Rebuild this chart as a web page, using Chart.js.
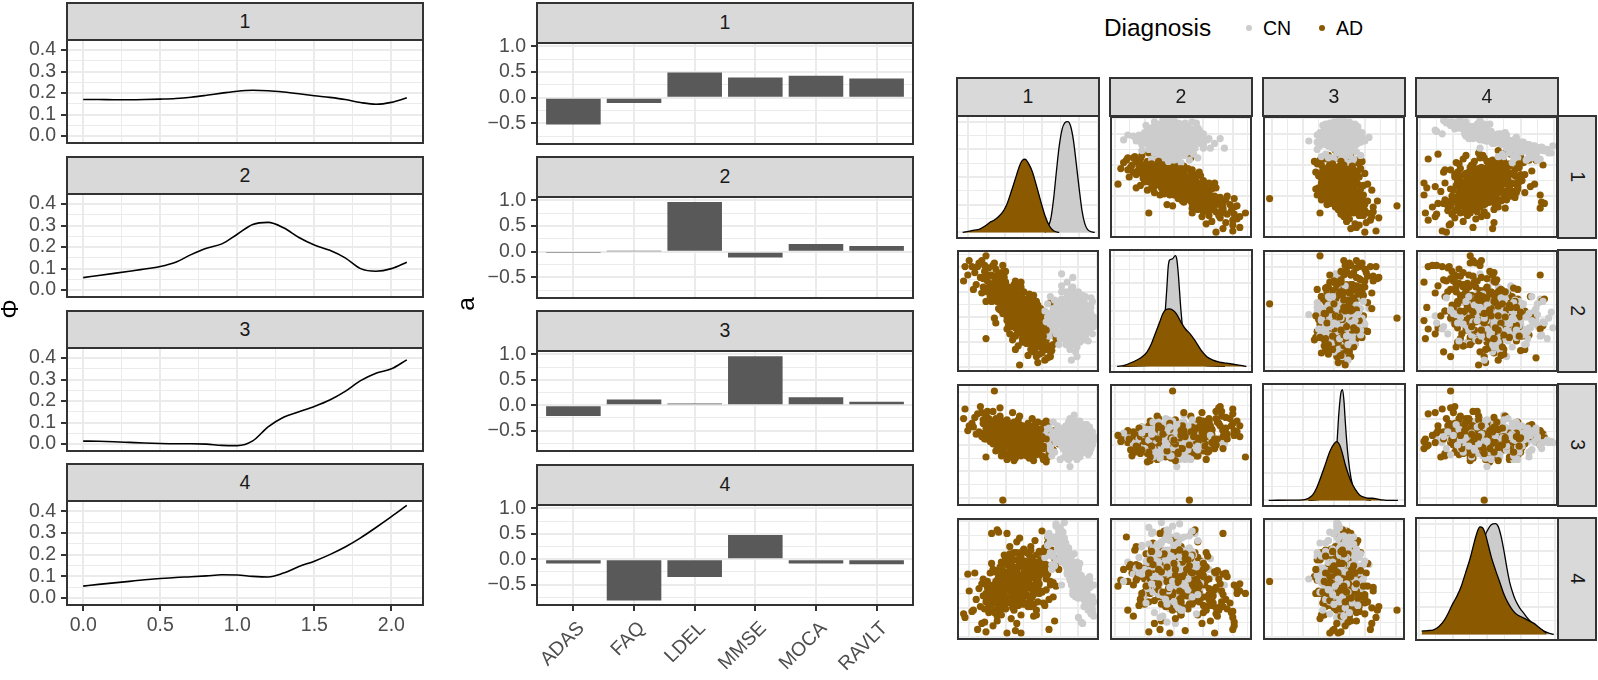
<!DOCTYPE html>
<html>
<head>
<meta charset="utf-8">
<title>Phi, loadings and pairs</title>
<script src="https://cdn.jsdelivr.net/npm/chart.js@4.4.1/dist/chart.umd.min.js"></script>
<style>
  html, body { margin: 0; padding: 0; background: #fff; }
  body { position: relative; width: 1598px; height: 680px; overflow: hidden; font-family: "Liberation Sans", Arial, sans-serif; }
  canvas { position: absolute; }
  .strip { position: absolute; box-sizing: border-box; background: #D9D9D9; border: 2px solid #333; color: #1A1A1A; font-size: 19.5px; display: flex; align-items: center; justify-content: center; line-height: 1; }
  .strip.side span { display: inline-block; transform: rotate(90deg); }
  .ytitle { position: absolute; font-size: 24.4px; color: #000; transform: translate(-50%, -50%) rotate(-90deg); line-height: 1; white-space: nowrap; }
  .legend { position: absolute; line-height: 1; white-space: nowrap; color: #000; }
  .dot { position: absolute; width: 6px; height: 6px; border-radius: 50%; }
</style>
</head>
<body>
<script>
// left column: Phi curves, one per component
const phiX = [0, 0.1, 0.2, 0.3, 0.4, 0.5, 0.6, 0.7, 0.8, 0.9, 1.0, 1.1, 1.2, 1.3, 1.4, 1.5, 1.6, 1.7, 1.8, 1.9, 2.0, 2.1];
const phi1 = [0.170, 0.170, 0.169, 0.169, 0.170, 0.172, 0.175, 0.181, 0.190, 0.200, 0.209, 0.213, 0.211, 0.205, 0.197, 0.188, 0.180, 0.170, 0.156, 0.148, 0.157, 0.178];
const phi2 = [0.058, 0.068, 0.078, 0.088, 0.098, 0.110, 0.130, 0.165, 0.195, 0.215, 0.260, 0.305, 0.315, 0.290, 0.245, 0.210, 0.185, 0.150, 0.100, 0.088, 0.100, 0.130];
const phi3 = [0.014, 0.013, 0.011, 0.008, 0.005, 0.003, 0.002, 0.002, 0.000, -0.006, -0.007, 0.015, 0.080, 0.125, 0.150, 0.175, 0.205, 0.245, 0.295, 0.330, 0.350, 0.392];
const phi4 = [0.055, 0.063, 0.070, 0.077, 0.084, 0.090, 0.095, 0.098, 0.102, 0.107, 0.106, 0.100, 0.097, 0.115, 0.145, 0.170, 0.200, 0.235, 0.277, 0.325, 0.375, 0.427];

// middle column: loadings a
const markers = ['ADAS', 'FAQ', 'LDEL', 'MMSE', 'MOCA', 'RAVLT'];
const a1 = [-0.52, -0.10, 0.49, 0.395, 0.43, 0.375];
const a2 = [-0.01, 0.01, 0.97, -0.11, 0.15, 0.11];
const a3 = [-0.21, 0.11, 0.035, 0.96, 0.155, 0.07];
const a4 = [-0.085, -0.81, -0.35, 0.475, -0.085, -0.10];

const facets = ['1', '2', '3', '4'];
const diagnosis = ['CN', 'AD'];

// right: component scores [c1, c2, c3, c4] per subject
const cnPoints = [
  [88,40,56,50],[84,35,52,58],[80,45,58,62],[92,38,54,38],[86,50,60,45],
  [78,30,50,70],[82,42,55,55],[90,47,57,42],[76,55,53,66],[83,25,59,60],
  [87,33,51,48],[81,58,56,52],[79,39,62,74],[85,44,49,57],[94,36,55,35],
  [77,48,57,80],[89,28,53,44],[83,52,61,63],[80,20,54,68],[86,62,58,40],
  [75,43,52,85],[91,41,56,30],[84,16,50,54],[82,67,60,47],[78,37,47,59],
  [88,54,55,51],[73,50,58,77],[85,31,63,43],[81,46,53,65],[87,24,57,36],
  [79,60,55,56],[96,42,52,25],[83,39,58,61],[76,33,54,72],[90,57,60,33],
  [80,51,50,49],[85,12,56,64],[82,70,53,58],[74,41,57,90],[89,45,55,46],
  [78,64,59,60],[86,27,51,53],[81,36,66,69],[93,49,54,28],[77,22,56,78],
  [84,56,58,42],[80,42,44,57],[88,34,57,39],[72,47,55,82],[83,61,52,50],
  [79,28,60,66],[86,40,54,34],[75,58,57,73],[91,30,56,44],[82,48,49,62],
  [78,74,55,54],[87,52,61,37],[80,18,53,59],[84,38,58,48],[70,44,52,94],
  [89,63,56,41],[76,39,64,67],[83,29,55,56],[81,53,57,45],[95,45,53,32],
  [77,66,50,61],[85,46,59,52],[79,35,56,76],[88,58,54,43],[73,32,58,70],
  [82,78,52,40],[86,43,62,58],[80,55,47,64],[90,26,57,49],[74,60,55,88],
  [84,49,51,35],[78,45,60,55],[87,37,56,63],[81,64,58,47],[76,27,53,79],
  [92,52,55,39],[83,33,54,71],[79,50,57,60],[85,59,59,46],[71,38,56,86],
  [88,47,50,53],[82,23,61,37],[77,53,55,68],[84,41,57,57],[76,36,52,97],
  [90,54,58,27],[80,31,63,51],[86,66,54,60],[75,46,56,75],[83,44,48,44],
  [65,48,55,70],[67,39,58,58],[81,9,60,48],[74,81,51,45],[80,47,32,50],
  [83,52,75,62],[88,40,55,14],[86,35,52,18],[89,46,57,13],[97,41,56,45],
  [85,38,54,52],[81,44,57,60],[87,49,52,41],[79,33,59,68],[83,56,55,50],
  [90,36,56,37],[77,41,53,74],[84,29,60,57],[86,53,57,44],[80,61,51,63],
  [92,44,58,31],[78,52,55,71],[82,35,50,58],[88,61,56,39],[76,45,61,78],
  [85,20,55,55],[81,69,57,51],[89,39,53,35],[83,47,62,62],[79,25,56,65],
  [87,58,54,46],[75,36,58,81],[91,48,55,33],[84,33,52,53],[80,57,59,59],
  [86,45,48,49],[78,40,57,72],[82,62,55,44],[93,42,57,30],[77,30,54,76],
  [85,51,60,48],[81,39,52,61],[88,26,56,42],[79,55,58,67],[83,43,54,55],
  [90,59,57,38],[76,50,53,84],[84,35,61,50],[87,42,55,45],[80,28,57,64],
  [82,57,51,53],[78,34,59,69],[86,64,56,43],[74,47,55,86],[89,51,58,36],
  [83,36,53,59],[81,49,56,57],[85,27,57,47],[77,59,54,70],[88,44,52,40],
  [72,40,57,91],[94,50,55,24],[79,46,56,63],[84,58,58,51],[82,31,55,60],
  [84,40,45,55],[80,36,66,60],[87,46,41,47],[82,30,69,52],[78,51,47,66],
  [89,43,62,41],[85,55,39,49],[81,41,71,62],[77,38,44,73],[86,32,64,44],
  [83,48,42,58],[79,44,68,68],[88,37,48,36],[84,59,63,51],[80,26,46,64],
  [90,50,67,34],[76,48,40,80],[85,35,60,46],[82,53,45,57],[87,41,70,42],
  [79,57,38,69],[83,22,65,54],[88,52,43,45],[81,33,61,61],[77,45,49,75],
  [86,60,66,40],[84,46,41,53],[80,39,72,65],[91,45,47,31],[78,28,63,71],
  [85,42,44,50],[82,64,59,47],[87,30,40,39],[79,48,65,63],[84,55,48,56],
  [89,34,61,37],[76,42,46,82],[83,50,68,48],[80,45,42,59],[88,49,64,43],
  [81,27,45,57],[86,56,62,52],[78,35,39,70],[84,44,70,46],[90,40,44,33],
  [82,61,50,60],[77,50,66,74],[85,33,43,44],[80,53,63,62],[87,47,47,41],
  [83,38,67,55],[79,42,41,67],[88,55,60,38],[84,24,49,58],[81,58,71,50],
  [86,36,45,48],[78,47,62,72],[92,46,50,29],[75,40,64,85],[85,49,38,53],
  [82,43,58,56],[80,34,46,64],[87,53,66,45],[83,30,42,52],[79,52,69,61],
  [89,41,46,40],[77,56,60,76],[84,47,65,49],[81,35,40,59],[86,51,53,46],
  [64,45,55,78],[66,38,48,72],[68,52,61,85],[70,31,57,66],[72,58,52,90],
  [63,41,63,70],[65,29,50,88],[67,47,58,62],[69,36,44,80],[71,55,66,75],
  [73,27,54,93],[62,50,59,68],[66,62,46,82],[68,34,69,71],[70,49,53,96],
  [72,22,60,77],[74,66,49,64],[64,56,57,86],[67,43,41,69],[71,40,62,83],
  [73,53,38,72],[69,59,56,61],[65,33,64,79],[75,30,47,89],[74,71,58,67],
  [93,39,52,33],[95,48,58,26],[92,55,46,41],[96,31,61,22],[94,44,55,48],
  [91,62,49,37],[97,37,57,19],[93,25,63,30],[95,53,51,44],[92,47,67,28],
  [94,33,44,52],[96,58,56,35],[91,29,59,46],[93,51,42,24],[97,45,54,31],
  [92,36,60,39],[95,61,47,21],[94,42,65,43],[91,55,53,50],[96,40,50,29]
];
const adPoints = [
  [66,12,52,48],[63,18,58,62],[68,22,45,35],[61,25,63,71],[60,15,41,55],
  [64,30,66,80],[70,27,53,44],[62,20,48,28],[62,9,56,58],[61,33,38,66],
  [60,38,59,90],[65,35,50,8],[63,28,70,50],[67,17,44,74],[60,24,55,39],
  [61,41,47,61],[64,11,60,85],[63,26,36,52],[69,36,62,15],[69,31,54,67],
  [60,45,49,57],[66,16,57,45],[62,48,64,76],[65,21,43,33],[72,40,51,58],
  [70,52,57,63],[68,44,46,47],[66,57,53,70],[61,50,68,30],[64,39,40,54],
  [58,30,52,46],[57,42,47,58],[56,25,61,39],[55,36,50,64],[54,48,57,42],
  [53,22,65,53],[52,39,44,27],[51,52,55,70],[50,31,60,48],[49,44,49,36],
  [59,20,54,55],[58,14,46,62],[57,33,69,44],[56,50,42,20],[55,19,58,51],
  [54,28,37,38],[53,57,52,67],[52,46,63,45],[51,27,47,31],[50,38,56,56],
  [49,60,41,72],[59,47,59,40],[58,24,51,59],[57,55,45,47],[56,12,62,24],
  [55,40,54,53],[54,63,48,61],[53,34,72,35],[52,18,57,77],[51,43,39,50],
  [50,56,53,43],[49,29,64,52],[48,47,55,65],[48,36,46,29],[59,52,60,66],
  [57,7,53,49],[55,45,67,82],[53,26,43,41],[51,64,58,57],[49,23,50,37],
  [58,37,56,73],[56,58,44,54],[54,16,61,19],[52,61,49,34],[50,13,55,60],
  [47,44,51,36],[47,60,58,55],[46,35,47,62],[46,27,66,44],[45,50,43,20],
  [45,41,55,51],[44,57,62,38],[44,34,49,67],[43,46,71,45],[43,63,53,31],
  [42,38,45,56],[42,53,59,72],[41,45,39,40],[41,29,57,59],[40,58,64,47],
  [40,49,52,24],[39,66,48,53],[39,42,61,43],[38,55,56,61],[38,37,44,35],
  [37,61,68,50],[37,50,51,77],[36,70,57,42],[36,44,42,30],[47,66,54,58],
  [46,24,60,50],[45,70,46,37],[44,33,74,63],[43,72,52,28],[42,62,57,81],
  [41,18,49,49],[40,72,63,41],[39,26,55,54],[38,46,40,17],[37,64,58,65],
  [36,38,50,52],[48,54,65,44],[46,56,45,29],[44,47,58,84],[42,31,52,13],
  [40,68,69,72],[38,63,47,39],[37,31,61,58],[36,56,54,47],[45,62,41,68],
  [43,21,57,33],[41,75,50,55],[39,52,77,26],[47,29,48,75],[40,40,59,60],
  [35,60,58,42],[34,72,63,35],[34,50,55,55],[33,66,45,28],[33,78,66,46],
  [32,55,52,38],[32,70,70,50],[31,62,41,20],[31,82,64,33],[30,68,57,60],
  [30,57,74,44],[29,75,50,26],[29,64,61,52],[28,80,47,37],[28,71,66,15],
  [27,60,56,48],[27,85,72,30],[26,74,53,56],[26,66,60,22],[25,79,78,40],
  [25,88,58,11],[24,70,68,34],[35,45,49,62],[34,83,59,52],[33,48,43,30],
  [32,88,62,45],[31,53,54,64],[30,77,81,24],[29,62,46,41],[28,76,55,19],
  [27,40,63,57],[26,90,70,38],[25,67,51,45],[24,58,64,29],[35,68,38,49],
  [33,58,60,70],[31,73,52,36],[29,52,67,51],[27,70,45,33],[25,61,59,58],
  [23,72,62,40],[22,80,57,27],[21,66,69,48],[20,79,74,31],[19,88,60,14],
  [18,70,71,36],[23,62,53,55],[22,86,66,22],[21,75,78,43],[20,58,64,35],
  [19,83,55,25],[18,77,68,50],[17,65,77,13],[16,78,82,27],[15,90,61,42],
  [14,87,76,8],[13,72,59,33],[12,82,73,55],[11,68,65,24],[10,87,68,23],
  [17,92,57,46],[20,96,40,38],
  [8,92,66,40],[5,87,80,18],[4,75,72,21],[7,80,62,54],
  [32,56,4,48],[26,44,95,24],[44,5,58,44],[28,60,56,91],[35,35,50,88],
  [20,27,55,6],[35,42,53,5],[41,53,49,7],[45,74,47,5],[29,58,60,89],[24,80,62,88],
  [57,28,55,50],[55,33,48,43],[53,38,62,57],[51,41,51,35],[49,35,58,62],
  [47,48,45,47],[45,52,66,53],[43,49,53,40],[41,55,47,66],[39,59,60,31],
  [37,57,52,56],[35,63,71,44],[33,61,46,38],[31,67,57,61],[29,70,63,28],
  [56,35,60,70],[54,44,42,39],[52,31,57,51],[50,42,68,27],[48,40,50,60],
  [46,45,55,73],[44,42,63,46],[42,50,44,52],[40,54,58,36],[38,51,49,64],
  [36,58,65,55],[34,55,54,25],[32,62,48,47],[30,65,61,54],[28,66,70,35],
  [58,22,46,38],[56,20,64,61],[54,24,53,29],[52,28,40,66],[50,25,59,44],
  [48,27,52,55],[46,31,47,32],[44,38,60,71],[42,43,56,49],[40,46,37,58],
  [38,41,63,42],[36,49,52,33],[34,53,58,67],[32,48,44,50],[30,51,66,39],
  [60,30,57,62],[58,46,51,53],[56,40,45,48],[54,52,62,37],[52,49,56,74],
  [50,54,48,58],[48,57,61,41],[46,61,53,50],[44,64,67,34],[42,67,49,59],
  [40,63,56,45],[38,69,44,69],[36,66,62,52],[34,74,55,41],[32,76,69,57],
  [30,73,51,30],[28,58,59,49],[26,61,64,43],[24,66,56,63],[22,70,72,37],
  [63,34,55,41],[61,29,49,73],[59,34,63,58],[57,50,58,31],[55,27,44,55],
  [53,45,54,63],[51,34,66,46],[49,51,47,52],[47,37,59,39],[45,56,50,61],
  [43,59,57,44],[41,36,64,56],[39,48,43,48],[37,53,57,71],[35,50,62,34]
];

// diagonal densities [score, density] per component
const cnDens1 = [[62,0],[64,0.05],[66,0.12],[68,0.3],[70,0.55],[72,0.78],[74,0.93],[76,0.99],[78,1.0],[80,0.96],[82,0.83],[84,0.62],[86,0.4],[88,0.2],[90,0.08],[92,0.025],[95,0.005],[97,0]];
const adDens1 = [[4,0],[8,0.01],[12,0.02],[16,0.03],[20,0.06],[23,0.09],[26,0.11],[29,0.14],[32,0.18],[35,0.25],[38,0.36],[41,0.48],[44,0.6],[46,0.65],[48,0.66],[50,0.63],[53,0.55],[56,0.42],[59,0.28],[62,0.15],[65,0.06],[68,0.015],[72,0]];
const cnDens2 = [[9,0],[20,0.005],[28,0.01],[33,0.03],[36,0.15],[38,0.35],[40,0.7],[41,0.9],[42,0.96],[44,0.97],[46,1.0],[47,0.97],[48,0.85],[50,0.5],[52,0.25],[54,0.12],[57,0.05],[62,0.02],[70,0.005],[81,0]];
const adDens2 = [[5,0],[10,0.01],[16,0.04],[22,0.08],[26,0.13],[29,0.2],[32,0.3],[35,0.4],[37,0.47],[39,0.51],[42,0.52],[45,0.5],[47,0.47],[50,0.4],[53,0.34],[56,0.3],[60,0.23],[64,0.15],[68,0.09],[72,0.06],[77,0.04],[82,0.03],[87,0.02],[92,0.01],[96,0]];
const cnDens3 = [[32,0],[40,0.01],[45,0.04],[48,0.1],[50,0.22],[52,0.5],[53.5,0.8],[55,0.98],[56,1.0],[57,0.9],[58,0.7],[59.5,0.45],[61,0.28],[63,0.14],[65,0.07],[68,0.03],[72,0.01],[76,0]];
const adDens3 = [[4,0],[10,0.002],[20,0.003],[28,0.005],[32,0.02],[35,0.05],[38,0.12],[41,0.22],[44,0.33],[47,0.44],[50,0.51],[52,0.53],[54,0.5],[56,0.42],[58,0.32],[60,0.24],[62,0.17],[65,0.1],[68,0.05],[71,0.03],[74,0.02],[77,0.02],[80,0.015],[84,0.005],[90,0],[95,0]];
const cnDens4 = [[13,0.01],[20,0.04],[25,0.1],[30,0.22],[35,0.38],[40,0.58],[44,0.74],[47,0.84],[50,0.93],[53,0.99],[56,1.0],[58,0.97],[60,0.88],[62,0.75],[64,0.6],[66,0.47],[68,0.38],[70,0.31],[73,0.24],[76,0.19],[79,0.14],[82,0.1],[86,0.06],[90,0.03],[94,0.01],[97,0]];
const adDens4 = [[4,0.03],[8,0.035],[12,0.04],[16,0.07],[20,0.13],[23,0.2],[26,0.28],[29,0.35],[32,0.44],[35,0.56],[38,0.68],[41,0.83],[43,0.92],[45,0.97],[47,0.96],[49,0.9],[51,0.8],[53,0.7],[56,0.58],[59,0.47],[62,0.36],[65,0.28],[68,0.22],[71,0.18],[74,0.16],[77,0.14],[80,0.12],[83,0.1],[86,0.07],[89,0.04],[92,0.01]];

const groupColor = ['#CCCCCC', '#8B5A00'];

Chart.defaults.font.family = '"Liberation Sans", Arial, sans-serif';
Chart.defaults.color = '#4D4D4D';

// panel border drawn above the marks, like ggplot
const framePlugin = {
  id: 'frame',
  afterDraw(chart) {
    const { ctx, chartArea: a } = chart;
    ctx.save();
    ctx.strokeStyle = '#333333';
    ctx.lineWidth = 2;
    ctx.strokeRect(a.left, a.top, a.right - a.left, a.bottom - a.top);
    ctx.restore();
  }
};

function place(box, m, config) {
  const cv = document.createElement('canvas');
  cv.width = box.r - box.l + m.l + m.r;
  cv.height = box.b - box.t + m.t + m.b;
  cv.style.left = (box.l - m.l) + 'px';
  cv.style.top = (box.t - m.t) + 'px';
  document.body.appendChild(cv);
  const o = config.options;
  o.responsive = false;
  o.animation = false;
  o.layout = { padding: { top: m.t, right: m.r, left: 0, bottom: 0 } };
  o.scales.x.afterFit = s => { s.height = m.b; };
  o.scales.y.afterFit = s => { s.width = m.l; };
  o.plugins = { legend: { display: false }, tooltip: { enabled: false } };
  config.plugins = [framePlugin];
  return new Chart(cv, config);
}

// tick positions; maj marks the labelled ones
function steps(from, to, step, majStep, origin) {
  const out = [];
  for (let i = 0; from + i * step <= to + 1e-9; i++) {
    const v = +(from + i * step).toFixed(6);
    const q = (v - (origin || 0)) / majStep;
    out.push({ value: v, maj: Math.abs(q - Math.round(q)) < 1e-6 });
  }
  return out;
}

function axis(min, max, ticks, o) {
  const fmt = o.fmt || (() => '');
  return {
    type: 'linear', min, max, offset: false, bounds: 'data',
    afterBuildTicks: s => { s.ticks = ticks.map(t => ({ value: t.value, maj: t.maj })); },
    border: { display: false },
    grid: {
      offset: false,
      color: '#EBEBEB',
      lineWidth: c => (c.tick && c.tick.maj ? 2 : 1),
      drawTicks: !!o.labels, tickLength: 6, tickWidth: 2,
      tickColor: c => (c.tick && c.tick.maj ? '#333333' : 'rgba(0,0,0,0)')
    },
    ticks: {
      display: !!o.labels, autoSkip: false, padding: o.pad == null ? 5 : o.pad,
      labelOffset: o.shift || 0,
      minRotation: o.rot || 0, maxRotation: o.rot || 0,
      color: '#4D4D4D', font: { size: 19.5 },
      callback: (v, i, arr) => (arr[i] && arr[i].maj ? fmt(v) : '')
    }
  };
}

function strip(l, t, w, h, label, side) {
  const d = document.createElement('div');
  d.className = 'strip' + (side ? ' side' : '');
  d.style.left = l + 'px'; d.style.top = t + 'px';
  d.style.width = w + 'px'; d.style.height = h + 'px';
  const s = document.createElement('span');
  s.textContent = label;
  d.appendChild(s);
  document.body.appendChild(d);
}

function text(cls, l, t, str, size) {
  const d = document.createElement('div');
  d.className = cls;
  d.style.left = l + 'px'; d.style.top = t + 'px';
  if (size) d.style.fontSize = size + 'px';
  d.textContent = str;
  document.body.appendChild(d);
}

const num = v => v.toFixed(1).replace('-', '\u2212');

// ---- left: Phi ----
const leftStrip = [2, 156, 310, 463], leftTop = [40, 194, 348, 501], leftBot = [143, 297, 451, 605];
[phi1, phi2, phi3, phi4].forEach((vals, k) => {
  const last = k === 3;
  strip(66, leftStrip[k], 358, leftTop[k] + 1 - leftStrip[k], facets[k]);
  place({ l: 67, r: 423, t: leftTop[k], b: leftBot[k] }, { l: 67, t: 20, r: 6, b: last ? 45 : 20 }, {
    type: 'line',
    data: { datasets: [{
      data: phiX.map((x, i) => ({ x, y: vals[i] })),
      borderColor: '#000', borderWidth: 1.6, pointRadius: 0,
      cubicInterpolationMode: 'monotone', fill: false
    }] },
    options: { scales: {
      x: axis(-0.105, 2.205, steps(0, 2, 0.25, 0.5), { labels: last, fmt: num, pad: 3 }),
      y: axis(-0.032, 0.447, steps(0, 0.4, 0.05, 0.1), { labels: true, fmt: num })
    } }
  });
});

// ---- middle: loadings ----
const midStrip = [2, 156, 310, 464], midTop = [43, 197, 351, 505], midBot = [144, 298, 451, 605];
[a1, a2, a3, a4].forEach((vals, k) => {
  const last = k === 3;
  strip(536, midStrip[k], 378, midTop[k] + 1 - midStrip[k], facets[k]);
  place({ l: 537, r: 913, t: midTop[k], b: midBot[k] }, { l: 80, t: 20, r: 6, b: last ? 75 : 20 }, {
    type: 'bar',
    data: { datasets: [{
      data: vals.map((y, i) => ({ x: i, y })),
      backgroundColor: '#595959', borderWidth: 0,
      categoryPercentage: 1, barPercentage: 0.9
    }] },
    options: { scales: {
      x: axis(-0.6, 5.6, markers.map((m, i) => ({ value: i, maj: true })), { labels: last, fmt: v => markers[v], rot: 45, pad: 6, shift: 8 }),
      y: axis(-0.9, 1.065, steps(-0.75, 1, 0.25, 0.5), { labels: true, fmt: num })
    } }
  });
});

text('ytitle', 10, 309, '\u03A6');
text('ytitle', 466, 304, 'a');

// ---- right: pairs matrix ----
const colL = [957, 1110, 1263, 1416], colW = 142;
const rowT = [116, 250, 384, 518], rowH = 122;
const varTicks = [
  steps(8, 100, 13, 26, 8),
  steps(3, 100, 10.5, 21, 3),
  steps(6, 100, 11, 22, 6),
  steps(2, 100, 12, 24, 2)
];
const densTicks = steps(0, 1.05, 0.125, 0.25, 0);
const cnDens = [cnDens1, cnDens2, cnDens3, cnDens4];
const adDens = [adDens1, adDens2, adDens3, adDens4];

const mixed = [];
for (let i = 0; i < Math.max(cnPoints.length, adPoints.length); i++) {
  if (i < cnPoints.length) mixed.push([cnPoints[i], 0]);
  if (i < adPoints.length) mixed.push([adPoints[i], 1]);
}

const mm = { l: 3, t: 3, r: 3, b: 3 };
for (let r = 0; r < 4; r++) {
  for (let c = 0; c < 4; c++) {
    const box = { l: colL[c], r: colL[c] + colW, t: rowT[r], b: rowT[r] + rowH };
    let cfg;
    if (r === c) {
      const curve = (pts, col, ord) => ({
        data: pts.map(([x, y]) => ({ x, y })),
        backgroundColor: col, borderColor: '#000', borderWidth: 1.3,
        fill: 'origin', pointRadius: 0, cubicInterpolationMode: 'monotone', order: ord
      });
      cfg = {
        type: 'line',
        data: { datasets: [curve(adDens[c], groupColor[1], 0), curve(cnDens[c], groupColor[0], 1)] },
        options: { scales: {
          x: axis(0, 100, varTicks[c], { labels: false }),
          y: axis(-0.05, 1.05, densTicks, { labels: false })
        } }
      };
    } else {
      cfg = {
        type: 'scatter',
        data: { datasets: [{
          data: mixed.map(([p]) => ({ x: p[c], y: p[r] })),
          pointRadius: 3.6, pointBorderWidth: 0, pointBorderColor: 'rgba(0,0,0,0)',
          pointBackgroundColor: mixed.map(([, g]) => groupColor[g])
        }] },
        options: { scales: {
          x: axis(0, 100, varTicks[c], { labels: false }),
          y: axis(0, 100, varTicks[r], { labels: false })
        } }
      };
    }
    place(box, mm, cfg);
  }
  strip(1557, rowT[r] - 1, 40, rowH + 2, facets[r], true);
}
for (let c = 0; c < 4; c++) strip(colL[c] - 1, 77, colW + 2, 40, facets[c]);

// legend
text('legend', 1104, 16, 'Diagnosis', 24.4);
const legendAt = [[1249, 1263], [1322, 1336]];
diagnosis.forEach((g, i) => {
  const d = document.createElement('div');
  d.className = 'dot';
  d.style.background = groupColor[i];
  d.style.left = (legendAt[i][0] - 3) + 'px';
  d.style.top = (28.3 - 3) + 'px';
  document.body.appendChild(d);
  text('legend', legendAt[i][1], 18.8, g, 19.5);
});
</script>
</body>
</html>
